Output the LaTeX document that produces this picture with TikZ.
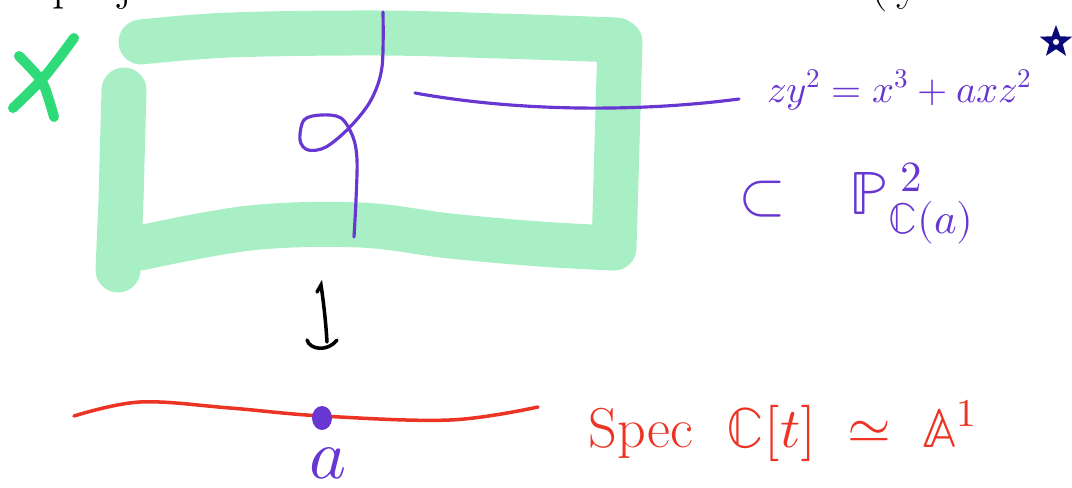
\documentclass[tikz,border=0pt]{standalone}
\usepackage{unicode-math}
\usetikzlibrary{shapes.geometric}

\definecolor{mint}{RGB}{169,239,198}
\definecolor{xgreen}{RGB}{46,219,120}
\definecolor{ink}{RGB}{104,54,208}
\definecolor{redink}{RGB}{236,52,36}
\definecolor{navy}{RGB}{10,10,120}

\begin{document}
\begin{tikzpicture}[x=0.02cm,y=-0.02cm,
  band/.style={mint, line width=0.9cm, line cap=round, line join=round},
  brush/.style={xgreen, line width=0.2cm, line cap=round},
  pen/.style={ink, line width=1.8pt, line cap=round, line join=round},
  redpen/.style={redink, line width=2pt, line cap=round},
  mappen/.style={black, line width=2pt, line cap=round},
  inktext/.style={ink, inner sep=0pt},
  redtext/.style={redink, inner sep=0pt},
  cuttext/.style={black, inner sep=0pt, anchor=base west, font=\fontsize{28}{30}\selectfont}]

\useasboundingbox (0,0) rectangle (1072,487);

% printed line cut off at the top edge
\node[cuttext] (toptextl) at (52,-1) {proj};
\node[cuttext] (toptextr) at (870,-1) {(\kern5pt y};

% the surface X: a thick brushed frame
\draw[band] plot[smooth, tension=0.6] coordinates {(141,42) (230,35) (380,33) (500,36) (617,40)};
\draw[band] (620,42) -- (614,248);
\draw[band] plot[smooth, tension=0.6] coordinates {(613,248) (540,244) (450,236) (360,225) (250,228) (140,248)};
\draw[band] (124,90) -- (121,200) -- (118,270);

% label X
\draw[brush] plot[smooth] coordinates {(13,108) (45,76) (74,38)};
\draw[brush] plot[smooth] coordinates {(19,56) (41,80) (49,100) (54,117)};

% nodal curve inside X
\draw[pen] plot[smooth, tension=0.55] coordinates {(383,12) (382,67) (371,100) (350,127) (326,147) (308,150) (300,140) (304,120) (321,115) (341,118) (353,137) (357,160) (356,200) (354,237)};

% equation of the fibre
\node[inktext, anchor=base west, font=\fontsize{22}{24}\selectfont] (eqn) at (767,102) {$zy^2=x^3+axz^2$};
\coordinate (fibre) at (415,93);
\coordinate (fibreend) at (739,99);
\draw[pen] (fibre) .. controls (520,112) and (640,112) .. (fibreend);

% ambient projective plane
\node[inktext, anchor=base west, font=\fontsize{35}{38}\selectfont] (plane) at (738,214) {$\subset\hspace{0.75em}\mathbb{P}^{\;2}_{\mathbb{C}(a)}$};

% star mark
\node[star, star points=5, star point ratio=2.4, fill=navy, inner sep=0pt, minimum size=0.68cm] (mark) at (1056,42) {};
\fill[white] (mark.center) circle (0.06cm);

% the map down to the base
\coordinate (maptop) at (321,285);
\coordinate (mapbot) at (327,342);
\draw[mappen] (317,292) -- (maptop) .. controls (324,305) and (326,325) .. (mapbot);
\draw[mappen] (307,340) .. controls (310,350) and (328,352) .. (337,340);

% the base line Spec C[t]
\draw[redpen] plot[smooth, tension=0.6] coordinates {(74,416) (140,402) (230,408) (322,416) (450,420) (538,407)};
\fill[ink] (322,418) ellipse (0.2cm and 0.24cm);
\node[inktext, anchor=base, font=\fontsize{40}{42}\selectfont] (pointa) at (328,478) {$a$};

\node[redtext, anchor=base west, font=\fontsize{32}{36}\selectfont] (spec) at (588,447) {Spec\hspace{0.6em}$\mathbb{C}[t]\;\simeq\;\mathbb{A}^1$};

\end{tikzpicture}
\end{document}
